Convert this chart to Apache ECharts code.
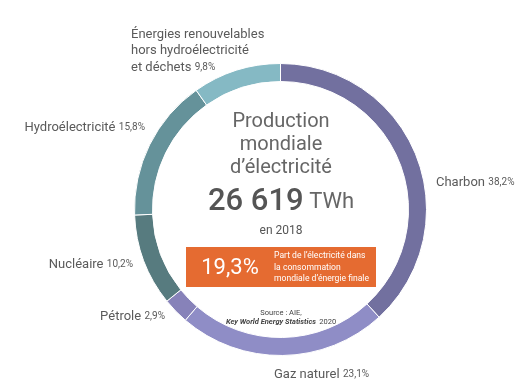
<!DOCTYPE html>
<html><head><meta charset="utf-8">
<script src="https://cdn.jsdelivr.net/npm/echarts@6/dist/echarts.min.js"></script>
<style>html,body{margin:0;padding:0;background:#fff}#c{width:519px;height:388px}</style>
</head><body><div id="c"></div>
<script>
const categories = ['Charbon', 'Gaz naturel', 'Pétrole', 'Nucléaire', 'Hydroélectricité', 'Énergies renouvelables\nhors hydroélectricité\net déchets'];
const shares = [38.2, 23.1, 2.9, 10.2, 15.8, 9.8];
const colors = ['#72709f', '#8f8dc6', '#8782b9', '#577b7f', '#65929a', '#85b9c4'];
const totalTWh = '26 619';
const year = '2018';
const electricityShare = '19,3%';

const fmt = v => v.toFixed(1).replace('.', ',') + '%';
const F = 'Roboto, sans-serif';
const grey = '#5a5a5a';

// label anchor positions [x, y, align]
const labelPos = [
  [436, 182, 'left'],
  [274, 374, 'left'],
  [165, 316, 'right'],
  [133, 264, 'right'],
  [145, 127, 'right'],
  [131, 34, 'left']
];

const labelEls = categories.map((c, i) => {
  const lines = c.split('\n');
  const last = lines.pop();
  let txt = lines.map(l => '{n|' + l + '}').join('\n');
  if (lines.length) txt += '\n';
  txt += '{n|' + last + '} {p|' + fmt(shares[i]) + '}';
  return {
    type: 'text', x: labelPos[i][0], y: labelPos[i][1] - 8,
    style: {
      text: txt, align: labelPos[i][2], verticalAlign: 'top',
      rich: {
        n: { fontFamily: F, fontSize: 13, fill: grey, lineHeight: 16.5 },
        p: { fontFamily: F, fontSize: 10, fill: grey, lineHeight: 16.5 }
      }
    }
  };
});

const chart = echarts.init(document.getElementById('c'));
chart.setOption({
  animation: false,
  series: [{
    type: 'pie',
    center: [280.5, 209.5],
    radius: [128, 146],
    startAngle: 90,
    clockwise: true,
    label: { show: false },
    labelLine: { show: false },
    itemStyle: { borderColor: '#fff', borderWidth: 1 },
    data: categories.map((c, i) => ({ name: c, value: shares[i], itemStyle: { color: colors[i] } }))
  }],
  graphic: labelEls.concat([
    { type: 'text', x: 281, y: 110, style: { text: 'Production\nmondiale\nd’électricité', align: 'center', verticalAlign: 'top', fontFamily: F, fontSize: 20, lineHeight: 23, fill: '#666' } },
    { type: 'text', x: 281, y: 202, style: { text: '{b|' + totalTWh + '}{s| }{u|TWh}', align: 'center', verticalAlign: 'middle',
      rich: { b: { fontFamily: F, fontSize: 31, fontWeight: 500, fill: '#555' }, s: { fontFamily: F, fontSize: 22 }, u: { fontFamily: F, fontSize: 22, fill: '#666' } } } },
    { type: 'text', x: 281, y: 231, style: { text: 'en ' + year, align: 'center', verticalAlign: 'middle', fontFamily: F, fontSize: 12, fill: '#555' } },
    { type: 'rect', shape: { x: 186, y: 247, width: 190, height: 40 }, style: { fill: '#e56b31' } },
    { type: 'text', x: 230, y: 268, style: { text: electricityShare, align: 'center', verticalAlign: 'middle', fontFamily: F, fontSize: 22, fill: '#fff' } },
    { type: 'text', x: 274, y: 267.5, style: { text: 'Part de l’électricité dans\nla consommation\nmondiale d’énergie finale', align: 'left', verticalAlign: 'middle', fontFamily: F, fontSize: 8.6, lineHeight: 11.5, fill: '#fff' } },
    { type: 'text', x: 281, y: 313, style: { text: 'Source : AIE,', align: 'center', verticalAlign: 'middle', fontFamily: F, fontSize: 7.5, fill: '#444' } },
    { type: 'text', x: 281, y: 322.5, style: { text: '{i|Key World Energy Statistics} {r|2020}', align: 'center', verticalAlign: 'middle',
      rich: { i: { fontFamily: F, fontSize: 7.5, fontStyle: 'italic', fontWeight: 'bold', fill: '#444' }, r: { fontFamily: F, fontSize: 7.5, fill: '#444' } } } }
  ])
});
</script></body></html>
